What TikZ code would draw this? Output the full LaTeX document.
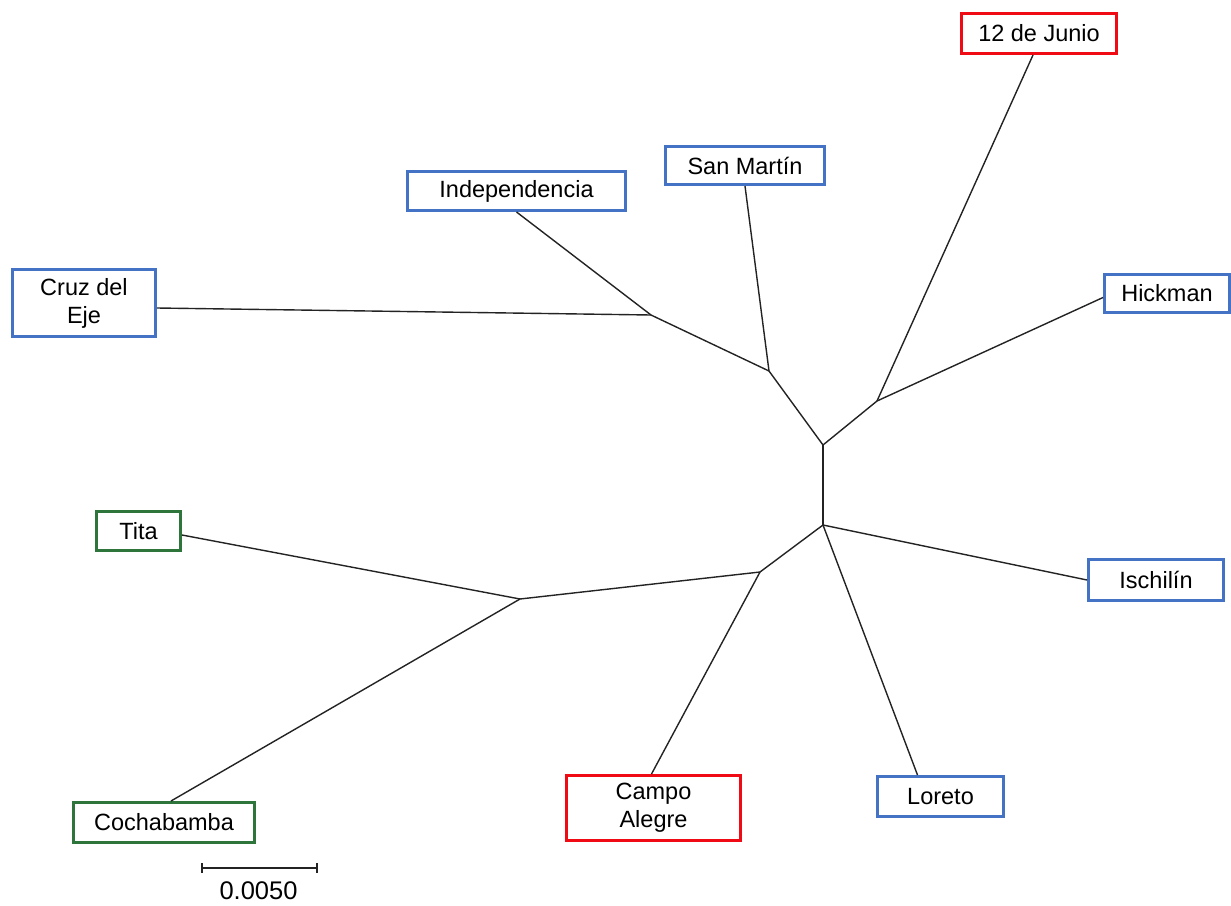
\documentclass[tikz,border=0pt]{standalone}
\usepackage{fontspec}
\setmainfont{Liberation Sans}
\definecolor{bblue}{RGB}{68,114,196}
\definecolor{bred}{RGB}{240,10,20}
\definecolor{bgreen}{RGB}{46,117,60}
\definecolor{branch}{RGB}{35,35,35}
\begin{document}
\begin{tikzpicture}[x=1pt,y=-1pt,
  leaf/.style={draw, line width=3pt, fill=white, inner sep=0pt, align=center,
    font=\fontsize{23.5}{28}\selectfont, text=black},
  blueleaf/.style={leaf, draw=bblue},
  redleaf/.style={leaf, draw=bred},
  greenleaf/.style={leaf, draw=bgreen},
  br/.style={draw=branch, line width=1.4pt},
  sz/.style 2 args={minimum width=#1pt, minimum height=#2pt}]
\useasboundingbox (0,0) rectangle (1231,905);
% internal nodes
\coordinate (A) at (823,445);
\coordinate (B) at (823,525);
\coordinate (C) at (877,401);
\coordinate (D) at (769,371);
\coordinate (E) at (651,315);
\coordinate (F) at (760,572);
\coordinate (G) at (520,599);
% leaves
\node[redleaf, sz={155}{40}] (junio) at (1039,33.5) {12 de Junio};
\node[blueleaf, sz={159}{38}] (sanmartin) at (745,165.5) {San Martín};
\node[blueleaf, sz={218}{39}] (indep) at (516.5,191) {Independencia};
\node[blueleaf, sz={143}{67}] (cruz) at (84,303) {Cruz del\\Eje};
\node[blueleaf, sz={125}{38}] (hickman) at (1167,293.5) {Hickman};
\node[greenleaf, sz={84}{39}] (tita) at (138.5,531) {Tita};
\node[blueleaf, sz={135}{41}] (ischilin) at (1156,580) {Ischilín};
\node[greenleaf, sz={181}{40}] (cocha) at (164,822.5) {Cochabamba};
\node[redleaf, sz={174}{65}] (campo) at (653.5,808) {Campo\\Alegre};
\node[blueleaf, sz={126}{40}] (loreto) at (940.5,796.5) {Loreto};
% branches
\draw[br] (A) -- (B);
\draw[br] (A) -- (C);
\draw[br] (A) -- (D);
\draw[br] (C) -- ([xshift=-6pt]junio.south);
\draw[br] (C) -- ([yshift=-4pt]hickman.west);
\draw[br] (D) -- (sanmartin.south);
\draw[br] (D) -- (E);
\draw[br] (E) -- (indep.south);
\draw[br] (E) -- ([yshift=-5pt]cruz.east);
\draw[br] (B) -- (ischilin.west);
\draw[br] (B) -- ([xshift=-23pt]loreto.north);
\draw[br] (B) -- (F);
\draw[br] (F) -- ([xshift=-2pt]campo.north);
\draw[br] (F) -- (G);
\draw[br] (G) -- ([yshift=-4pt]tita.east);
\draw[br] (G) -- ([xshift=7pt]cocha.north);
% scale bar
\coordinate (s1) at (202,868);
\coordinate (s2) at (317,868);
\draw[draw=branch, line width=1.5pt] (s1) -- (s2);
\draw[draw=branch, line width=1.5pt] ([yshift=5pt]s1) -- ([yshift=-5pt]s1);
\draw[draw=branch, line width=1.5pt] ([yshift=5pt]s2) -- ([yshift=-5pt]s2);
\node[font=\fontsize{25.5}{30}\selectfont, inner sep=0pt] (scalelabel) at (258.5,891) {0.0050};
\end{tikzpicture}
\end{document}
